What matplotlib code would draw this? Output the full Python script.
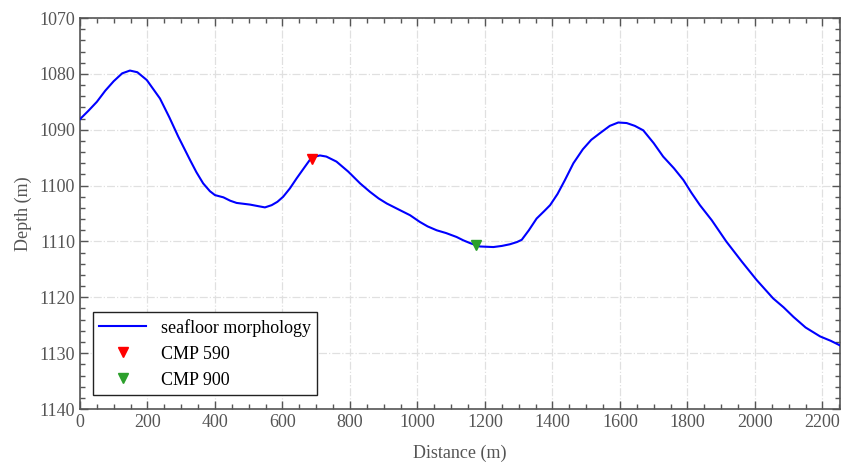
import matplotlib.pyplot as plt
from matplotlib.ticker import MultipleLocator

# seafloor profile
distance = [0, 25, 50, 75, 100, 125, 148, 170, 198, 237, 265, 291, 326, 345, 365, 385,
            400, 425, 445, 464, 504, 530, 548, 568, 585, 602, 622, 642, 662, 681, 697,
            711, 730, 760, 795, 830, 859, 885, 909, 945, 978, 1007, 1030, 1057, 1085,
            1116, 1136, 1156, 1185, 1225, 1250, 1274, 1295, 1309, 1330, 1353, 1375,
            1393, 1415, 1437, 1462, 1490, 1515, 1541, 1570, 1595, 1620, 1644, 1669,
            1700, 1728, 1760, 1788, 1812, 1837, 1872, 1915, 1961, 2005, 2054, 2085,
            2114, 2150, 2193, 2225, 2255]
depth = [1088.1, 1086.6, 1085.0, 1083.0, 1081.3, 1079.9, 1079.4, 1079.7, 1081.1, 1084.4,
         1087.8, 1091.2, 1095.4, 1097.6, 1099.6, 1101.0, 1101.7, 1102.1, 1102.7, 1103.1,
         1103.4, 1103.7, 1103.9, 1103.5, 1102.9, 1102.0, 1100.5, 1098.7, 1097.0, 1095.4,
         1094.8, 1094.6, 1094.8, 1095.7, 1097.5, 1099.6, 1101.1, 1102.3, 1103.2, 1104.3,
         1105.3, 1106.5, 1107.3, 1108.0, 1108.5, 1109.2, 1109.8, 1110.3, 1110.9, 1111.0,
         1110.8, 1110.5, 1110.1, 1109.7, 1108.0, 1105.9, 1104.6, 1103.5, 1101.5, 1099.0,
         1096.0, 1093.5, 1091.8, 1090.6, 1089.3, 1088.7, 1088.8, 1089.3, 1090.1, 1092.4,
         1094.8, 1096.9, 1099.0, 1101.3, 1103.5, 1106.2, 1110.0, 1113.6, 1116.9, 1120.2,
         1121.8, 1123.5, 1125.4, 1127.0, 1127.8, 1128.7]

cmp590 = (688, 1095.3)
cmp900 = (1173, 1110.7)

plt.rcParams['font.family'] = ['Liberation Serif', 'DejaVu Serif']
grey = '#555555'

fig = plt.figure(figsize=(8.41, 4.63), dpi=100)
ax = fig.add_axes([0.0951, 0.1166, 0.9037, 0.8444])

ax.plot(distance, depth, color='#0000ff', lw=1.5, label='seafloor morphology', zorder=3)
ax.plot(*cmp590, 'v', color='#ff0000', ms=7, ls='none', label='CMP 590', zorder=4)
ax.plot(*cmp900, 'v', color='#2ca02c', ms=7, ls='none', label='CMP 900', zorder=4)

ax.set_xlim(0, 2252)
ax.set_ylim(1140, 1070)
ax.xaxis.set_major_locator(MultipleLocator(200))
ax.xaxis.set_minor_locator(MultipleLocator(50))
ax.yaxis.set_major_locator(MultipleLocator(10))
ax.yaxis.set_minor_locator(MultipleLocator(2))

ax.grid(True, which='major', color='#e0e0e0', ls='-.', lw=0.9)
ax.tick_params(which='both', direction='in', top=True, right=True, colors=grey,
               labelsize=13, labelcolor=grey)
ax.tick_params(which='major', length=6, width=1)
ax.tick_params(which='minor', length=3.5, width=1)
for s in ax.spines.values():
    s.set_color(grey)
    s.set_linewidth(1.2)

ax.set_xlabel('Distance (m)', fontsize=13, color=grey, labelpad=10)
ax.set_ylabel('Depth (m)', fontsize=13, color=grey, labelpad=5)

leg = ax.legend(loc='lower left', bbox_to_anchor=(0.017, 0.036), fontsize=13,
                fancybox=False, framealpha=1, edgecolor='#222222', borderaxespad=0,
                handlelength=2.6, borderpad=0.35, labelspacing=0.5)
leg.get_frame().set_linewidth(1.0)

fig.savefig('out.png', dpi=100)
